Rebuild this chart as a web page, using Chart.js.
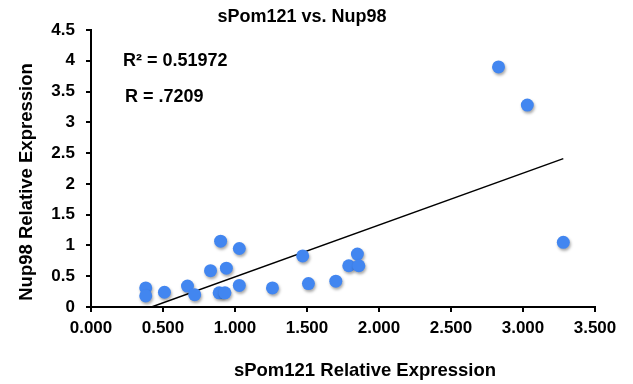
<!DOCTYPE html>
<html>
<head>
<meta charset="utf-8">
<script src="https://cdn.jsdelivr.net/npm/chart.js@4"></script>
<style>
  html, body { margin: 0; padding: 0; background: #fff; }
  #wrap { width: 633px; height: 384px; position: relative; }
</style>
</head>
<body>
<div id="wrap"><canvas id="scatterChart"></canvas></div>
<script>
// valores
const chartTitle = 'sPom121 vs. Nup98';
const xTitle = 'sPom121 Relative Expression';
const yTitle = 'Nup98 Relative Expression';
const sPom121 = [0.38, 0.38, 0.51, 0.67, 0.72, 0.83, 0.90, 0.94, 0.89, 0.93, 1.03, 1.03, 1.26, 1.47, 1.51, 1.70, 1.79, 1.85, 1.86, 2.83, 3.03, 3.28];
const nup98   = [0.31, 0.18, 0.24, 0.34, 0.20, 0.59, 1.07, 0.63, 0.23, 0.23, 0.95, 0.35, 0.31, 0.83, 0.38, 0.42, 0.67, 0.86, 0.67, 3.90, 3.28, 1.05];
const trendX = [0.42, 3.28];
const trendY = [0.00, 2.41];
const annotations = ['R\u00B2 = 0.51972', 'R = .7209'];

const FONT = '"Liberation Sans", Arial, Helvetica, sans-serif';

// sombra de los puntos
const shadowPlugin = {
    id: 'pointShadow',
    beforeDatasetDraw(chart, args) {
        if (args.index !== 0) return;
        const ctx = chart.ctx;
        ctx.save();
        ctx.shadowColor = 'rgba(0,0,0,0.35)';
        ctx.shadowBlur = 3;
        ctx.shadowOffsetX = 1;
        ctx.shadowOffsetY = 2;
    },
    afterDatasetDraw(chart, args) {
        if (args.index !== 0) return;
        chart.ctx.restore();
    }
};

// textos: título, ejes y R
const textPlugin = {
    id: 'texts',
    afterDraw(chart) {
        const ctx = chart.ctx;
        ctx.save();
        ctx.fillStyle = '#000';
        ctx.textBaseline = 'middle';
        ctx.font = 'bold 18px ' + FONT;
        ctx.textAlign = 'center';
        ctx.fillText(chartTitle, 302, 17);
        ctx.font = 'bold 18.5px ' + FONT;
        ctx.fillText(xTitle, 365, 371);
        ctx.save();
        ctx.translate(27, 182);
        ctx.rotate(-Math.PI / 2);
        ctx.fillText(yTitle, 0, 0);
        ctx.restore();
        ctx.font = 'bold 18px ' + FONT;
        ctx.textAlign = 'left';
        ctx.fillText(annotations[0], 123, 61);
        ctx.fillText(annotations[1], 125, 97);
        ctx.restore();
    }
};

const ctx = document.getElementById('scatterChart').getContext('2d');
new Chart(ctx, {
    type: 'scatter',
    data: {
        datasets: [{
            data: sPom121.map((x, i) => ({ x: x, y: nup98[i] })),
            backgroundColor: '#4286f0',
            borderWidth: 0,
            pointRadius: 6.5,
            pointHoverRadius: 6.5,
            clip: false
        }, {
            type: 'line',
            data: trendX.map((x, i) => ({ x: x, y: trendY[i] })),
            borderColor: '#000',
            borderWidth: 1.5,
            pointRadius: 0,
            fill: false
        }]
    },
    options: {
        responsive: true,
        maintainAspectRatio: false,
        animation: false,
        events: [],
        layout: { padding: { top: 30, right: 38, left: 0, bottom: 0 } },
        plugins: {
            legend: { display: false },
            title: { display: false },
            tooltip: { enabled: false }
        },
        scales: {
            x: {
                type: 'linear',
                min: 0,
                max: 3.5,
                afterFit: scale => { scale.height = 77; },
                grid: { display: true, drawOnChartArea: false, drawTicks: true, tickLength: 5, color: '#000', lineWidth: 2 },
                border: { display: true, color: '#000', width: 2 },
                ticks: {
                    stepSize: 0.5,
                    padding: 6,
                    color: '#000',
                    font: { family: FONT, size: 17, weight: 'bold' },
                    callback: v => v.toFixed(3)
                }
            },
            y: {
                type: 'linear',
                min: 0,
                max: 4.5,
                afterFit: scale => { scale.width = 91; },
                grid: { display: true, drawOnChartArea: false, drawTicks: true, tickLength: 5, color: '#000', lineWidth: 2 },
                border: { display: true, color: '#000', width: 2 },
                ticks: {
                    stepSize: 0.5,
                    padding: 11,
                    color: '#000',
                    font: { family: FONT, size: 17, weight: 'bold' },
                    callback: v => String(v)
                }
            }
        }
    },
    plugins: [shadowPlugin, textPlugin]
});
</script>
</body>
</html>
